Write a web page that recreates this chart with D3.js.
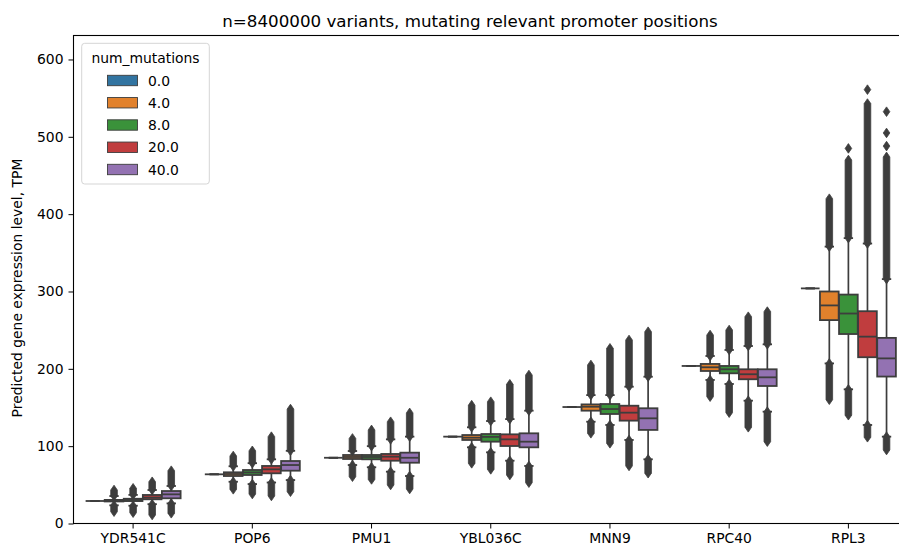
<!DOCTYPE html>
<html>
<head>
<meta charset="utf-8">
<script src="https://cdn.jsdelivr.net/npm/d3@7/dist/d3.min.js"></script>
<style>
  html, body { margin: 0; padding: 0; background: #fff; }
  svg { display: block; font-family: "DejaVu Sans", sans-serif; }
</style>
</head>
<body>
<svg id="chart" width="899" height="550"></svg>
<script>
// ---------------- data ----------------
const genes = ["YDR541C", "POP6", "PMU1", "YBL036C", "MNN9", "RPC40", "RPL3"];
const mutations = ["0.0", "4.0", "8.0", "20.0", "40.0"];
const hueColors = ["#3274a1", "#e1812c", "#3a923a", "#c03d3e", "#9372b2"];
const yTicks = [0, 100, 200, 300, 400, 500, 600];

// each row: one gene, columns: num_mutations 0, 4, 8, 20, 40
const q1 = [
  [29.1, 28.5, 29.0, 31.3, 32.6],
  [63.6, 61.4, 62.7, 64.9, 68.3],
  [85.0, 83.4, 83.0, 81.2, 78.6],
  [112.3, 108.0, 105.8, 100.2, 98.5],
  [150.6, 145.9, 141.6, 133.0, 121.0],
  [203.7, 197.2, 194.2, 186.5, 177.8],
  [304.0, 263.0, 245.0, 215.0, 190.0]
];
const median = [
  [29.1, 29.5, 30.5, 33.5, 37.7],
  [63.6, 64.0, 66.0, 70.0, 75.6],
  [85.0, 86.0, 86.0, 86.4, 85.0],
  [112.3, 111.0, 112.0, 108.8, 105.8],
  [150.6, 151.0, 148.0, 143.3, 136.0],
  [203.7, 202.0, 199.4, 193.0, 189.0],
  [304.0, 282.0, 271.5, 241.6, 213.5]
];
const q3 = [
  [29.1, 30.5, 32.0, 36.9, 42.0],
  [63.6, 66.2, 69.2, 74.4, 80.8],
  [85.0, 88.6, 88.6, 89.9, 91.6],
  [112.3, 114.4, 115.7, 115.3, 116.6],
  [150.6, 154.0, 154.5, 152.3, 149.0],
  [203.7, 206.3, 203.7, 199.4, 199.4],
  [304.0, 300.0, 296.0, 274.5, 240.0]
];
const whiskerLow = [
  [29.1, 23.5, 23.0, 25.0, 26.0],
  [63.6, 54.0, 51.0, 53.0, 56.2],
  [85.0, 75.6, 72.7, 67.0, 61.4],
  [112.3, 98.5, 92.0, 81.2, 74.4],
  [150.6, 131.6, 127.4, 108.0, 83.0],
  [203.7, 185.6, 180.4, 158.8, 144.6],
  [304.0, 207.0, 173.5, 127.4, 112.3]
];
const whiskerHigh = [
  [29.1, 35.5, 37.0, 43.3, 48.5],
  [63.6, 74.0, 78.0, 83.0, 94.0],
  [85.0, 93.7, 100.0, 108.8, 112.3],
  [112.3, 124.4, 132.5, 135.0, 145.9],
  [150.6, 166.0, 166.0, 176.9, 189.8],
  [203.7, 216.6, 224.4, 229.5, 231.7],
  [304.0, 358.0, 369.0, 362.0, 316.0]
];
// extent of the dense outlier columns (null = no outliers)
const flierMin = [
  [null, 15.3, 14.0, 11.0, 13.2],
  [null, 44.2, 38.1, 35.6, 41.1],
  [null, 60.5, 57.0, 49.8, 44.6],
  [null, 77.8, 70.0, 62.7, 52.8],
  [null, 116.6, 103.7, 74.4, 65.0],
  [null, 164.0, 143.3, 124.4, 105.8],
  [null, 160.0, 140.0, 111.5, 95.0]
];
const flierMax = [
  [null, 43.3, 45.5, 54.0, 68.3],
  [null, 87.3, 94.0, 112.3, 148.0],
  [null, 110.0, 121.0, 131.6, 143.0],
  [null, 153.0, 157.5, 180.0, 192.0],
  [null, 205.0, 226.5, 237.3, 248.0],
  [null, 243.7, 250.2, 267.4, 274.0],
  [null, 420.0, 470.0, 543.0, 474.0]
];
// isolated extreme outliers above the columns: [gene, num_mutations, value]
const extraFliers = [
  ["RPL3", "8.0", 485],
  ["RPL3", "20.0", 561],
  ["RPL3", "40.0", 488],
  ["RPL3", "40.0", 505],
  ["RPL3", "40.0", 532.5]
];

// ---------------- layout ----------------
const plotLeft = 73.5, plotRight = 908, plotTop = 35.5, plotBottom = 523.5;
const gray = "#3d3d3d";
const fontSize = 13.9;

const svg = d3.select("#chart");

const x = d3.scaleBand().domain(genes).range([plotLeft, plotRight]).paddingInner(0).paddingOuter(0);
const bw = x.bandwidth();
const hue = d3.scaleBand().domain(mutations).range([-0.4 * bw, 0.4 * bw]);
const boxW = hue.bandwidth() * 0.98;
const y = d3.scaleLinear().domain([0, 631]).range([plotBottom, plotTop]);

// ---------------- boxes ----------------
const plot = svg.append("g");
const flierHalfW = 3.3, flierTip = 4.8;

function flierColumn(cx, vLo, vHi) {
  const yTop = y(vHi), yBot = y(vLo);
  return `M${cx},${yTop - flierTip} L${cx + flierHalfW},${yTop} L${cx + flierHalfW},${yBot} ` +
         `L${cx},${yBot + flierTip} L${cx - flierHalfW},${yBot} L${cx - flierHalfW},${yTop} Z`;
}
function diamond(cx, v) {
  const yy = y(v);
  return `M${cx},${yy - flierTip} L${cx + flierHalfW},${yy} L${cx},${yy + flierTip} L${cx - flierHalfW},${yy} Z`;
}

genes.forEach((g, gi) => {
  mutations.forEach((m, mi) => {
    const cx = x(g) + bw / 2 + hue(m) + hue.bandwidth() / 2;
    const grp = plot.append("g");
    const capW = boxW * 0.5;
    grp.append("rect")
      .attr("x", cx - boxW / 2).attr("width", boxW)
      .attr("y", y(q3[gi][mi])).attr("height", Math.max(0, y(q1[gi][mi]) - y(q3[gi][mi])))
      .attr("fill", hueColors[mi]).attr("stroke", gray).attr("stroke-width", 1.8);
    grp.append("line").attr("x1", cx).attr("x2", cx)
      .attr("y1", y(q1[gi][mi])).attr("y2", y(whiskerLow[gi][mi]))
      .attr("stroke", gray).attr("stroke-width", 1.7);
    grp.append("line").attr("x1", cx).attr("x2", cx)
      .attr("y1", y(q3[gi][mi])).attr("y2", y(whiskerHigh[gi][mi]))
      .attr("stroke", gray).attr("stroke-width", 1.7);
    [whiskerLow[gi][mi], whiskerHigh[gi][mi]].forEach(v => {
      grp.append("line").attr("x1", cx - capW / 2).attr("x2", cx + capW / 2)
        .attr("y1", y(v)).attr("y2", y(v))
        .attr("stroke", gray).attr("stroke-width", 1.8);
    });
    grp.append("line").attr("x1", cx - boxW / 2).attr("x2", cx + boxW / 2)
      .attr("y1", y(median[gi][mi])).attr("y2", y(median[gi][mi]))
      .attr("stroke", gray).attr("stroke-width", 1.8);
    if (flierMin[gi][mi] !== null) {
      grp.append("path").attr("d", flierColumn(cx, flierMin[gi][mi], whiskerLow[gi][mi]))
        .attr("fill", gray).attr("stroke", gray).attr("stroke-width", 0.8);
      grp.append("path").attr("d", flierColumn(cx, whiskerHigh[gi][mi], flierMax[gi][mi]))
        .attr("fill", gray).attr("stroke", gray).attr("stroke-width", 0.8);
    }
    extraFliers.filter(e => e[0] === g && e[1] === m).forEach(e => {
      grp.append("path").attr("d", diamond(cx, e[2]))
        .attr("fill", gray).attr("stroke", gray).attr("stroke-width", 0.8);
    });
  });
});

// ---------------- axes ----------------
const yAxis = svg.append("g")
  .attr("transform", `translate(${plotLeft},0)`)
  .call(d3.axisLeft(y).tickValues(yTicks).tickSize(5).tickPadding(5).tickFormat(d3.format("d")));
const xAxis = svg.append("g")
  .attr("transform", `translate(0,${plotBottom})`)
  .call(d3.axisBottom(x).tickSize(5).tickPadding(4.5));
[yAxis, xAxis].forEach(a => {
  a.select(".domain").remove();
  a.selectAll("text").attr("font-size", fontSize).attr("font-family", "DejaVu Sans").attr("fill", "#000");
  a.selectAll("line").attr("stroke", "#000").attr("stroke-width", 1);
});

svg.append("rect")
  .attr("x", plotLeft).attr("y", plotTop)
  .attr("width", plotRight - plotLeft).attr("height", plotBottom - plotTop)
  .attr("fill", "none").attr("stroke", "#000").attr("stroke-width", 1.1);

svg.append("text")
  .attr("x", 470).attr("y", 27)
  .attr("text-anchor", "middle")
  .attr("font-size", 16.7)
  .text("n=8400000 variants, mutating relevant promoter positions");

svg.append("text")
  .attr("transform", `translate(21.7,288) rotate(-90)`)
  .attr("text-anchor", "middle")
  .attr("font-size", fontSize)
  .text("Predicted gene expression level, TPM");

// ---------------- legend ----------------
const leg = svg.append("g");
leg.append("rect")
  .attr("x", 81.7).attr("y", 43.3).attr("width", 127.6).attr("height", 140.7)
  .attr("rx", 3).attr("fill", "#fff").attr("fill-opacity", 0.8)
  .attr("stroke", "#d5d5d5").attr("stroke-width", 1);
leg.append("text")
  .attr("x", 145.5).attr("y", 62.5).attr("text-anchor", "middle")
  .attr("font-size", fontSize).text("num_mutations");
mutations.forEach((m, i) => {
  const cy = 80.5 + i * 22.25;
  leg.append("rect")
    .attr("x", 107.5).attr("y", cy - 5.2).attr("width", 30).attr("height", 10.4)
    .attr("fill", hueColors[i]).attr("stroke", gray).attr("stroke-width", 0.9);
  leg.append("text")
    .attr("x", 148).attr("y", cy + 5).attr("font-size", fontSize).text(m);
});
</script>
</body>
</html>
